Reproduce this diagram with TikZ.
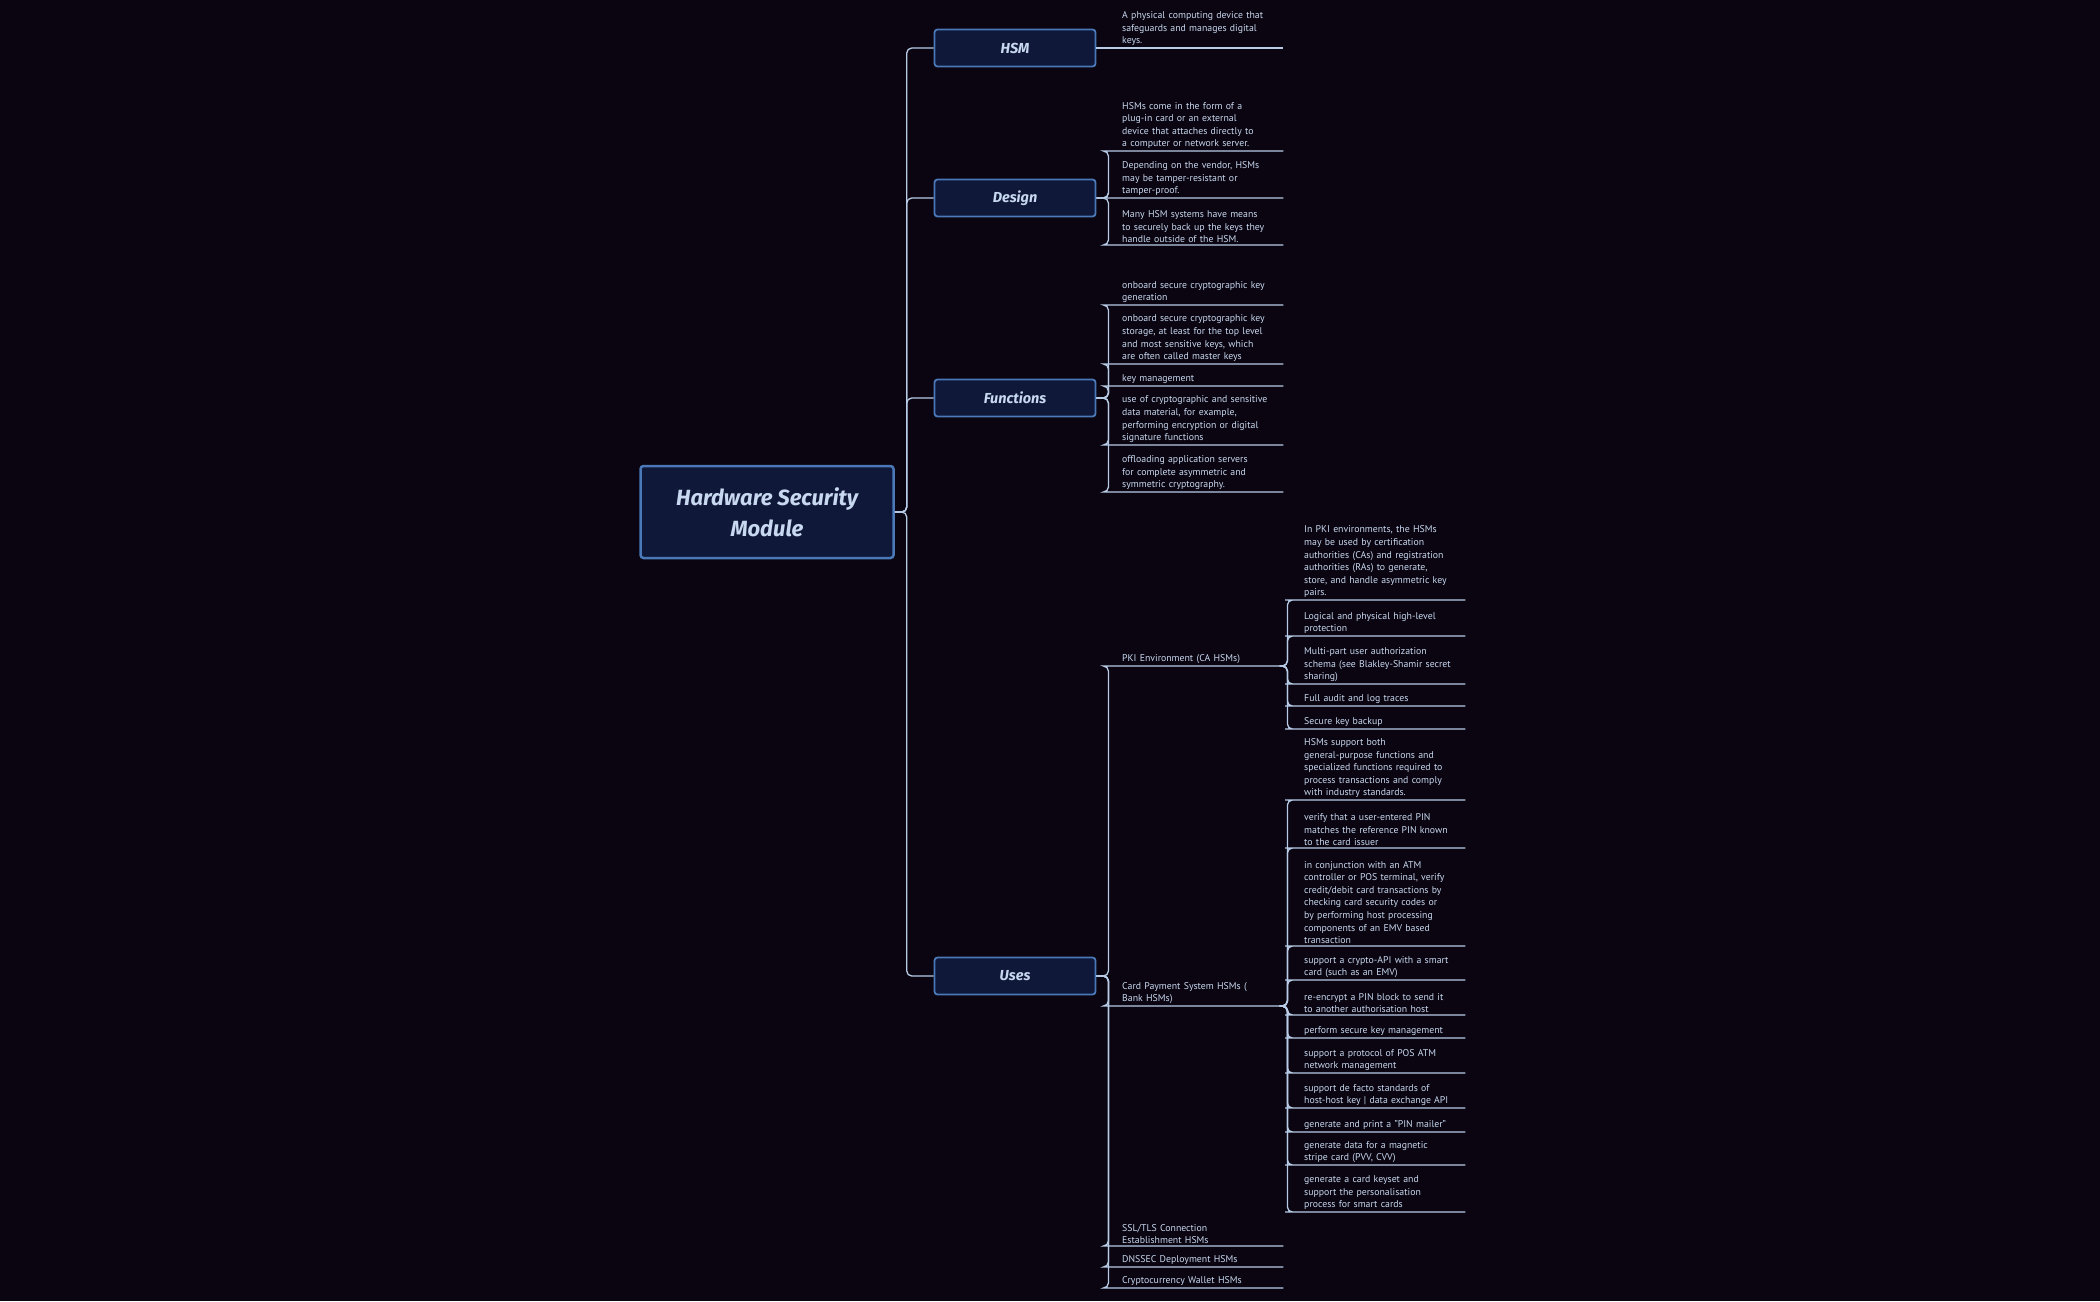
\documentclass[tikz,border=0pt]{standalone}
\usepackage{fontspec}
\setmainfont{PT Sans}
\newfontfamily\headfont{Fira Sans}
\definecolor{bg}{HTML}{0A0510}
\definecolor{boxfill}{HTML}{0F1838}
\definecolor{boxline}{HTML}{4A78B8}
\definecolor{ttext}{HTML}{C8D8F0}
\definecolor{lline}{HTML}{B8CCE8}
\hyphenpenalty=10000
\exhyphenpenalty=10000
\begin{document}
\begin{tikzpicture}[x=1pt,y=-1pt,
  rootbox/.style={draw=boxline,line width=2.5pt,fill=boxfill,rounded corners=3pt,minimum width=253pt,minimum height=92pt,align=center,text=ttext,font=\headfont\fontsize{22}{31}\selectfont\bfseries\itshape},
  branchbox/.style={draw=boxline,line width=1.8pt,fill=boxfill,rounded corners=3pt,minimum width=161pt,minimum height=37pt,text=ttext,font=\headfont\fontsize{14.5}{18}\selectfont\bfseries\itshape},
  leaf/.style={anchor=south west,text width=147pt,inner xsep=14pt,inner ysep=2pt,align=left,text=ttext,font=\fontsize{9.8}{12.6}\selectfont},
  conn/.style={draw=lline,line width=1.3pt,rounded corners=5pt}]
\fill[bg] (0,0) rectangle (2100,1301);
\useasboundingbox (0,0) rectangle (2100,1301);

\node[rootbox] (root) at (767,512) {Hardware Security\\Module};
\node[branchbox] (hsm) at (1015,48) {HSM};
\node[branchbox] (design) at (1015,198) {Design};
\node[branchbox] (func) at (1015,398) {Functions};
\node[branchbox] (uses) at (1015,976) {Uses};

\foreach \b in {hsm,design,func,uses}
  \draw[conn] (root.east) -- ([xshift=12pt]root.east) |- (\b.west);

% HSM
\node[leaf] (h1) at (1108,48) {A physical computing device that safeguards and manages digital keys.};
\draw[conn] (hsm.east) -- (h1.south east);

% Design
\node[leaf] (d1) at (1108,151) {HSMs come in the form of a plug-in card or an external device that attaches directly to a computer or network server.};
\node[leaf] (d2) at (1108,198) {Depending on the vendor, HSMs may be tamper-resistant or tamper-proof.};
\node[leaf] (d3) at (1108,245) {Many HSM systems have means to securely back up the keys they handle outside of the HSM.};
\foreach \l in {d1,d2,d3}
  \draw[conn] (design.east) -- ([xshift=12pt]design.east) |- (\l.south west) -- (\l.south east);

% Functions
\node[leaf] (f1) at (1108,305) {onboard secure cryptographic key generation};
\node[leaf] (f2) at (1108,364) {onboard secure cryptographic key storage, at least for the top level and most sensitive keys, which are often called master keys};
\node[leaf] (f3) at (1108,386) {key management};
\node[leaf] (f4) at (1108,445) {use of cryptographic and sensitive data material, for example, performing encryption or digital signature functions};
\node[leaf] (f5) at (1108,492) {offloading application servers for complete asymmetric and symmetric cryptography.};
\foreach \l in {f1,f2,f3,f4,f5}
  \draw[conn] (func.east) -- ([xshift=12pt]func.east) |- (\l.south west) -- (\l.south east);

% Uses
\node[leaf] (u1) at (1108,666) {PKI Environment (CA HSMs)};
\node[leaf] (u2) at (1108,1006) {Card Payment System HSMs ( Bank HSMs)};
\node[leaf] (u3) at (1108,1246) {SSL/TLS Connection Establishment HSMs};
\node[leaf] (u4) at (1108,1267) {DNSSEC Deployment HSMs};
\node[leaf] (u5) at (1108,1288) {Cryptocurrency Wallet HSMs};
\foreach \l in {u1,u2,u3,u4,u5}
  \draw[conn] (uses.east) -- ([xshift=12pt]uses.east) |- (\l.south west) -- (\l.south east);

% PKI
\node[leaf] (p1) at (1290,600) {In PKI environments, the HSMs may be used by certification authorities (CAs) and registration authorities (RAs) to generate, store, and handle asymmetric key pairs.};
\node[leaf] (p2) at (1290,636) {Logical and physical high-level protection};
\node[leaf] (p3) at (1290,684) {Multi-part user authorization schema (see Blakley-Shamir secret sharing)};
\node[leaf] (p4) at (1290,706) {Full audit and log traces};
\node[leaf] (p5) at (1290,729) {Secure key backup};
\foreach \l in {p1,p2,p3,p4,p5}
  \draw[conn] (u1.south east) -- ([xshift=4pt]u1.south east) |- (\l.south west) -- (\l.south east);

% Card
\node[leaf] (c1) at (1290,800) {HSMs support both general-purpose functions and specialized functions required to process transactions and comply with industry standards.};
\node[leaf] (c2) at (1290,848) {verify that a user-entered PIN matches the reference PIN known to the card issuer};
\node[leaf] (c3) at (1290,946) {in conjunction with an ATM controller or POS terminal, verify credit/debit card transactions by checking card security codes or by performing host processing components of an EMV based transaction};
\node[leaf] (c4) at (1290,980) {support a crypto-API with a smart card (such as an EMV)};
\node[leaf] (c5) at (1290,1015) {re-encrypt a PIN block to send it to another authorisation host};
\node[leaf] (c6) at (1290,1038) {perform secure key management};
\node[leaf] (c7) at (1290,1073) {support a protocol of POS ATM network management};
\node[leaf] (c8) at (1290,1108) {support de facto standards of host-host key | data exchange API};
\node[leaf] (c9) at (1290,1132) {generate and print a "PIN mailer"};
\node[leaf] (c10) at (1290,1165) {generate data for a magnetic stripe card (PVV, CVV)};
\node[leaf] (c11) at (1290,1212) {generate a card keyset and support the personalisation process for smart cards};
\foreach \l in {c1,c2,c3,c4,c5,c6,c7,c8,c9,c10,c11}
  \draw[conn] (u2.south east) -- ([xshift=4pt]u2.south east) |- (\l.south west) -- (\l.south east);
\end{tikzpicture}
\end{document}
